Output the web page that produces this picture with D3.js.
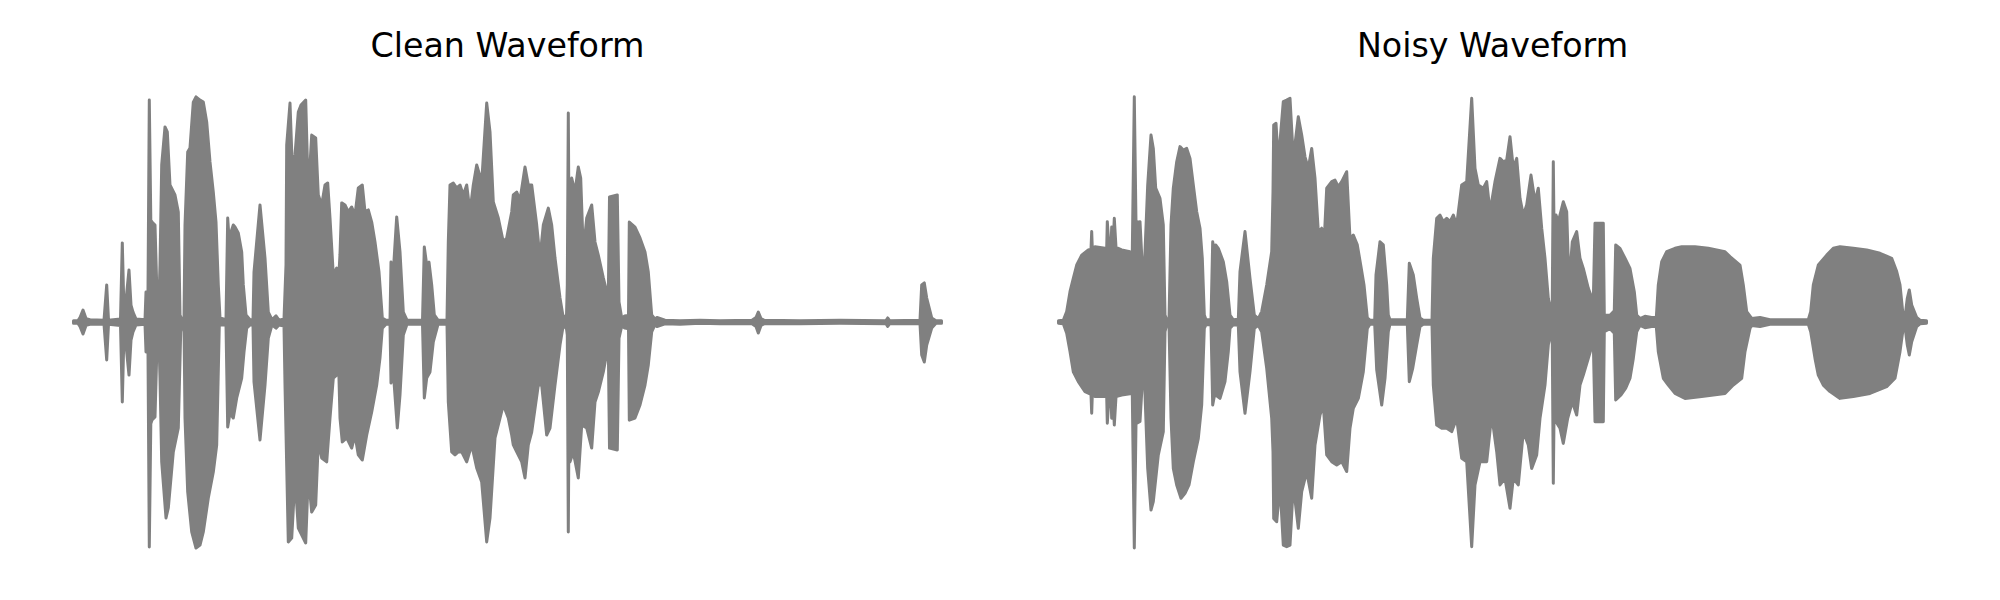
<!DOCTYPE html>
<html>
<head>
<meta charset="utf-8">
<script src="https://cdn.jsdelivr.net/npm/d3@7"></script>
<style>
  html, body { margin: 0; padding: 0; background: #ffffff; }
  svg { display: block; }
</style>
</head>
<body>
<svg id="chart" width="2000" height="600"></svg>
<script>
// ---- Data: amplitude envelopes [time (s), normalized amplitude] ----
const panelTitles = ["Clean Waveform", "Noisy Waveform"];
const duration = 8.68;

const cleanUpper = [
[0,0.006],[0.045,0.006],[0.065,0.02],[0.095,0.053],[0.125,0.015],[0.165,0.01],[0.305,0.008],[0.332,0.164],[0.35,0.008],
[0.47,0.013],[0.488,0.35],[0.505,0.044],[0.525,0.097],[0.555,0.23],[0.575,0.075],[0.595,0.044],[0.625,0.013],[0.715,0.01],
[0.725,0.133],[0.745,0.133],[0.758,0.982],[0.773,0.451],[0.785,0.442],[0.815,0.429],[0.832,0.164],[0.85,0.018],
[0.865,0.252],[0.882,0.695],[0.915,0.863],[0.938,0.841],[0.965,0.606],[1.015,0.562],[1.048,0.487],[1.065,0.031],[1.085,0.01],[1.105,0.01],
[1.115,0.429],[1.142,0.752],[1.165,0.77],[1.198,0.973],[1.225,0.996],[1.265,0.982],[1.298,0.973],[1.332,0.885],[1.365,0.708],[1.398,0.575],[1.425,0.442],[1.448,0.164],[1.465,0.018],[1.525,0.01],
[1.542,0.46],[1.555,0.372],[1.598,0.429],[1.615,0.42],[1.648,0.394],[1.682,0.31],[1.698,0.164],[1.725,0.031],[1.765,0.01],[1.795,0.01],
[1.805,0.221],[1.865,0.518],[1.915,0.283],[1.948,0.044],[1.985,0.01],[2.025,0.027],[2.055,0.008],[2.105,0.013],
[2.125,0.252],[2.132,0.783],[2.165,0.969],[2.188,0.681],[2.215,0.739],[2.248,0.929],[2.275,0.96],[2.322,0.982],[2.348,0.562],[2.382,0.827],[2.422,0.814],[2.448,0.562],[2.482,0.518],[2.515,0.606],[2.542,0.615],[2.565,0.46],[2.598,0.208],[2.632,0.239],[2.648,0.164],
[2.665,0.3],[2.682,0.527],[2.715,0.518],[2.748,0.487],[2.782,0.509],[2.815,0.473],[2.848,0.593],[2.888,0.606],[2.915,0.487],[2.948,0.496],[2.982,0.442],[3.015,0.354],[3.055,0.221],[3.088,0.018],[3.125,0.008],[3.165,0.008],
[3.175,0.265],[3.198,0.221],[3.232,0.465],[3.265,0.31],[3.298,0.044],[3.335,0.008],[3.49,0.008],
[3.508,0.332],[3.532,0.252],[3.555,0.265],[3.582,0.164],[3.608,0.031],[3.645,0.008],[3.735,0.008],
[3.748,0.354],[3.765,0.606],[3.798,0.615],[3.832,0.593],[3.865,0.606],[3.898,0.562],[3.932,0.606],[3.965,0.487],[3.998,0.606],[4.032,0.695],[4.082,0.619],[4.132,0.969],[4.165,0.841],[4.198,0.531],[4.248,0.46],[4.298,0.354],[4.332,0.372],[4.382,0.487],
[4.398,0.562],[4.432,0.575],[4.465,0.54],[4.515,0.686],[4.548,0.606],[4.582,0.606],[4.632,0.429],[4.665,0.283],[4.698,0.429],[4.748,0.504],[4.782,0.429],[4.815,0.283],[4.865,0.106],[4.898,0.018],[4.93,0.03],
[4.938,0.164],[4.948,0.925],[4.957,0.3],[4.965,0.606],[4.982,0.637],[5.015,0.575],[5.048,0.686],[5.072,0.637],[5.098,0.31],[5.132,0.46],[5.182,0.518],[5.215,0.354],[5.248,0.296],[5.298,0.195],[5.348,0.106],
[5.36,0.553],[5.438,0.562],[5.455,0.088],[5.482,0.018],[5.515,0.027],[5.55,0.03],
[5.558,0.442],[5.615,0.42],[5.665,0.372],[5.715,0.31],[5.748,0.221],[5.782,0.031],[5.815,0.012],[5.835,0.02],[5.915,0.008],
[6.065,0.006],[6.265,0.008],[6.465,0.006],[6.785,0.008],[6.825,0.02],[6.848,0.044],[6.875,0.015],[6.905,0.008],[7.265,0.006],[7.665,0.008],
[8.125,0.006],[8.142,0.018],[8.16,0.006],[8.465,0.008],[8.482,0.164],[8.508,0.173],[8.532,0.106],[8.582,0.018],[8.625,0.006],[8.68,0.006]
];

const cleanLower = [
[0,-0.006],[0.045,-0.006],[0.065,-0.02],[0.095,-0.053],[0.125,-0.015],[0.165,-0.01],[0.305,-0.01],[0.332,-0.168],[0.35,-0.01],
[0.47,-0.015],[0.488,-0.354],[0.505,-0.044],[0.525,-0.102],[0.555,-0.235],[0.575,-0.08],[0.595,-0.044],[0.625,-0.013],[0.715,-0.01],
[0.725,-0.133],[0.745,-0.133],[0.758,-0.996],[0.773,-0.45],[0.785,-0.434],[0.815,-0.42],[0.832,-0.15],[0.85,-0.018],
[0.865,-0.248],[0.882,-0.619],[0.925,-0.867],[0.948,-0.823],[0.998,-0.575],[1.048,-0.469],[1.072,-0.044],[1.085,-0.013],[1.105,-0.013],
[1.115,-0.425],[1.142,-0.752],[1.182,-0.929],[1.225,-1.0],[1.265,-0.987],[1.298,-0.929],[1.348,-0.779],[1.398,-0.664],[1.432,-0.544],[1.458,-0.013],[1.525,-0.013],
[1.542,-0.465],[1.565,-0.403],[1.598,-0.425],[1.632,-0.336],[1.682,-0.248],[1.705,-0.133],[1.732,-0.027],[1.765,-0.013],[1.795,-0.013],
[1.805,-0.265],[1.865,-0.522],[1.915,-0.279],[1.948,-0.071],[1.985,-0.013],[2.025,-0.027],[2.055,-0.013],[2.105,-0.018],
[2.115,-0.279],[2.148,-0.973],[2.182,-0.956],[2.215,-0.69],[2.248,-0.912],[2.322,-0.978],[2.348,-0.677],[2.382,-0.841],[2.422,-0.81],[2.448,-0.531],[2.482,-0.602],[2.532,-0.619],[2.565,-0.425],[2.598,-0.248],[2.632,-0.235],[2.648,-0.133],
[2.665,-0.425],[2.688,-0.531],[2.732,-0.513],[2.782,-0.558],[2.815,-0.5],[2.848,-0.588],[2.888,-0.611],[2.932,-0.5],[2.982,-0.398],[3.032,-0.279],[3.065,-0.159],[3.088,-0.027],[3.125,-0.01],[3.165,-0.01],
[3.175,-0.27],[3.198,-0.221],[3.238,-0.469],[3.265,-0.323],[3.298,-0.058],[3.335,-0.01],[3.49,-0.01],
[3.508,-0.336],[3.532,-0.248],[3.565,-0.221],[3.598,-0.088],[3.645,-0.01],[3.735,-0.01],
[3.748,-0.354],[3.782,-0.575],[3.815,-0.588],[3.848,-0.575],[3.882,-0.575],[3.932,-0.619],[3.982,-0.544],[4.032,-0.646],[4.082,-0.708],[4.132,-0.973],[4.165,-0.867],[4.215,-0.513],[4.265,-0.425],[4.298,-0.367],[4.348,-0.425],[4.382,-0.5],
[4.398,-0.544],[4.432,-0.575],[4.482,-0.619],[4.515,-0.69],[4.548,-0.544],[4.582,-0.487],[4.648,-0.279],[4.682,-0.279],[4.732,-0.5],[4.765,-0.469],[4.815,-0.279],[4.865,-0.102],[4.898,-0.013],[4.93,-0.03],
[4.938,-0.058],[4.948,-0.929],[4.957,-0.3],[4.965,-0.619],[4.998,-0.575],[5.048,-0.69],[5.082,-0.456],[5.132,-0.469],[5.182,-0.558],[5.215,-0.354],[5.248,-0.31],[5.298,-0.221],[5.348,-0.102],
[5.36,-0.558],[5.438,-0.566],[5.455,-0.071],[5.482,-0.018],[5.515,-0.027],[5.55,-0.03],
[5.558,-0.434],[5.615,-0.425],[5.665,-0.367],[5.715,-0.279],[5.748,-0.19],[5.782,-0.044],[5.815,-0.012],[5.835,-0.02],[5.915,-0.008],
[6.065,-0.01],[6.265,-0.006],[6.465,-0.008],[6.785,-0.008],[6.825,-0.02],[6.848,-0.049],[6.875,-0.015],[6.905,-0.008],[7.265,-0.008],[7.665,-0.006],
[8.125,-0.008],[8.142,-0.02],[8.16,-0.008],[8.465,-0.008],[8.482,-0.146],[8.508,-0.177],[8.532,-0.102],[8.582,-0.027],[8.625,-0.006],[8.68,-0.006]
];

const noisyUpper = [
[0,0.006],[0.048,0.008],[0.082,0.046],[0.115,0.134],[0.148,0.193],[0.182,0.252],[0.232,0.296],[0.298,0.319],[0.325,0.322],[0.332,0.4],[0.338,0.325],
[0.365,0.333],[0.465,0.326],[0.482,0.326],[0.488,0.444],[0.505,0.33],[0.525,0.33],[0.532,0.42],[0.545,0.33],[0.558,0.459],[0.575,0.33],[0.632,0.319],[0.715,0.311],[0.738,0.31],
[0.758,0.997],[0.775,0.44],[0.815,0.444],[0.832,0.296],[0.852,0.15],
[0.865,0.311],[0.892,0.606],[0.925,0.827],[0.948,0.768],[0.972,0.592],[1.015,0.547],[1.048,0.429],[1.065,0.031],[1.082,0.01],[1.105,0.01],
[1.125,0.429],[1.148,0.592],[1.182,0.709],[1.215,0.776],[1.248,0.761],[1.282,0.768],[1.315,0.724],[1.348,0.606],[1.382,0.488],[1.415,0.415],[1.438,0.282],[1.458,0.031],[1.475,0.01],[1.525,0.01],
[1.542,0.355],[1.558,0.311],[1.572,0.341],[1.598,0.326],[1.648,0.267],[1.682,0.178],[1.715,0.031],[1.748,0.01],[1.798,0.012],
[1.815,0.223],[1.865,0.4],[1.915,0.193],[1.958,0.031],[1.998,0.015],
[2.032,0.046],[2.082,0.164],[2.132,0.311],[2.145,0.577],[2.152,0.872],[2.175,0.879],[2.198,0.709],[2.248,0.975],[2.282,0.982],[2.315,0.99],[2.348,0.724],[2.398,0.908],[2.432,0.827],[2.465,0.731],[2.498,0.68],[2.532,0.768],[2.565,0.636],[2.598,0.4],[2.632,0.415],[2.655,0.341],
[2.682,0.592],[2.732,0.621],[2.765,0.628],[2.798,0.599],[2.832,0.621],[2.882,0.665],[2.915,0.37],[2.948,0.385],[2.988,0.341],[3.022,0.252],[3.055,0.164],[3.088,0.018],[3.115,0.008],[3.162,0.008],
[3.175,0.208],[3.215,0.355],[3.248,0.341],[3.282,0.164],[3.298,0.031],[3.315,0.01],[3.488,0.01],
[3.508,0.26],[3.548,0.208],[3.582,0.105],[3.615,0.018],[3.648,0.008],[3.735,0.008],
[3.748,0.282],[3.782,0.459],[3.815,0.473],[3.848,0.444],[3.882,0.459],[3.915,0.444],[3.948,0.473],[3.982,0.429],[4.032,0.606],[4.082,0.621],[4.132,0.99],[4.165,0.68],[4.198,0.606],[4.248,0.592],[4.282,0.621],[4.315,0.488],[4.365,0.621],
[4.415,0.724],[4.448,0.709],[4.482,0.717],[4.515,0.82],[4.548,0.68],[4.582,0.724],[4.615,0.547],[4.648,0.473],[4.682,0.518],[4.725,0.65],[4.765,0.532],[4.798,0.592],[4.832,0.415],[4.865,0.282],[4.898,0.105],[4.925,0.031],
[4.938,0.1],[4.948,0.709],[4.958,0.3],[4.975,0.473],[4.998,0.444],[5.048,0.532],[5.082,0.488],[5.105,0.164],[5.138,0.355],[5.182,0.4],[5.215,0.282],[5.248,0.237],[5.298,0.149],[5.348,0.09],
[5.365,0.437],[5.448,0.437],[5.458,0.031],[5.515,0.03],[5.558,0.05],
[5.572,0.341],[5.615,0.326],[5.665,0.282],[5.715,0.237],[5.758,0.134],[5.782,0.031],[5.815,0.015],[5.865,0.025],[5.932,0.02],[5.978,0.02],
[5.998,0.164],[6.032,0.267],[6.082,0.311],[6.165,0.326],[6.232,0.333],[6.365,0.333],[6.498,0.326],[6.665,0.311],[6.715,0.289],[6.815,0.252],[6.848,0.164],[6.882,0.046],[6.932,0.016],
[7.015,0.02],[7.115,0.01],[7.282,0.01],[7.498,0.01],
[7.522,0.046],[7.548,0.164],[7.598,0.252],[7.682,0.296],[7.748,0.326],[7.815,0.333],[7.948,0.326],[8.082,0.319],[8.215,0.304],[8.332,0.282],[8.382,0.223],[8.415,0.164],[8.442,0.046],[8.465,0.02],
[8.488,0.105],[8.508,0.142],[8.532,0.075],[8.582,0.02],[8.615,0.008],[8.68,0.006]
];

const noisyLower = [
[0,-0.006],[0.048,-0.008],[0.082,-0.05],[0.115,-0.131],[0.148,-0.22],[0.198,-0.264],[0.265,-0.308],[0.325,-0.32],[0.332,-0.404],[0.338,-0.322],
[0.365,-0.33],[0.482,-0.33],[0.488,-0.448],[0.505,-0.33],[0.525,-0.33],[0.532,-0.426],[0.545,-0.33],[0.558,-0.456],[0.575,-0.33],[0.632,-0.323],[0.715,-0.318],[0.738,-0.318],
[0.758,-1.0],[0.775,-0.45],[0.815,-0.44],[0.832,-0.31],[0.852,-0.15],
[0.865,-0.32],[0.892,-0.648],[0.925,-0.832],[0.948,-0.795],[0.998,-0.588],[1.048,-0.485],[1.065,-0.043],[1.082,-0.012],[1.105,-0.012],
[1.125,-0.426],[1.148,-0.648],[1.182,-0.721],[1.225,-0.78],[1.265,-0.758],[1.305,-0.721],[1.348,-0.618],[1.398,-0.515],[1.432,-0.367],[1.458,-0.028],[1.475,-0.012],[1.525,-0.012],
[1.542,-0.367],[1.558,-0.33],[1.572,-0.323],[1.615,-0.338],[1.665,-0.264],[1.698,-0.131],[1.715,-0.028],[1.748,-0.012],[1.798,-0.014],
[1.815,-0.22],[1.865,-0.404],[1.915,-0.22],[1.958,-0.028],[1.998,-0.015],
[2.032,-0.043],[2.082,-0.205],[2.132,-0.426],[2.145,-0.574],[2.152,-0.869],[2.182,-0.884],[2.215,-0.721],[2.248,-0.987],[2.282,-0.994],[2.315,-0.987],[2.348,-0.721],[2.398,-0.913],[2.432,-0.751],[2.482,-0.662],[2.532,-0.78],[2.565,-0.544],[2.615,-0.412],[2.648,-0.367],
[2.682,-0.588],[2.732,-0.618],[2.782,-0.633],[2.832,-0.618],[2.882,-0.662],[2.915,-0.47],[2.948,-0.382],[2.998,-0.338],[3.048,-0.22],[3.088,-0.028],[3.115,-0.01],[3.162,-0.01],
[3.182,-0.212],[3.232,-0.367],[3.265,-0.249],[3.298,-0.043],[3.315,-0.01],[3.488,-0.01],
[3.508,-0.264],[3.542,-0.205],[3.582,-0.102],[3.615,-0.02],[3.648,-0.01],[3.735,-0.01],
[3.748,-0.279],[3.782,-0.456],[3.832,-0.47],[3.882,-0.47],[3.932,-0.485],[3.982,-0.426],[4.032,-0.603],[4.082,-0.618],[4.132,-0.994],[4.165,-0.721],[4.215,-0.618],[4.282,-0.618],[4.332,-0.412],[4.382,-0.574],
[4.415,-0.721],[4.465,-0.692],[4.515,-0.824],[4.548,-0.692],[4.598,-0.721],[4.648,-0.485],[4.698,-0.544],[4.732,-0.648],[4.782,-0.588],[4.815,-0.426],[4.865,-0.279],[4.898,-0.102],[4.925,-0.03],
[4.938,-0.1],[4.948,-0.714],[4.958,-0.3],[4.975,-0.441],[5.015,-0.47],[5.048,-0.537],[5.092,-0.426],[5.138,-0.353],[5.182,-0.412],[5.215,-0.279],[5.248,-0.235],[5.298,-0.161],[5.348,-0.087],
[5.365,-0.441],[5.448,-0.441],[5.458,-0.043],[5.515,-0.03],[5.558,-0.05],
[5.572,-0.345],[5.625,-0.323],[5.672,-0.293],[5.715,-0.249],[5.748,-0.161],[5.782,-0.043],[5.815,-0.015],[5.865,-0.025],[5.932,-0.02],[5.978,-0.02],
[5.998,-0.131],[6.048,-0.249],[6.098,-0.279],[6.165,-0.316],[6.265,-0.338],[6.432,-0.33],[6.665,-0.316],[6.748,-0.279],[6.832,-0.249],[6.865,-0.131],[6.915,-0.028],[6.932,-0.016],
[7.015,-0.02],[7.115,-0.01],[7.282,-0.01],[7.498,-0.01],
[7.522,-0.043],[7.565,-0.161],[7.598,-0.235],[7.648,-0.279],[7.715,-0.308],[7.815,-0.338],[7.948,-0.33],[8.115,-0.316],[8.282,-0.286],[8.365,-0.249],[8.415,-0.131],[8.442,-0.043],[8.465,-0.02],
[8.488,-0.102],[8.508,-0.146],[8.532,-0.087],[8.582,-0.02],[8.615,-0.008],[8.68,-0.006]
];

// ---- Drawing ----
const svg = d3.select("#chart");
const color = "#808080";

const panels = [
  { title: panelTitles[0], upper: cleanUpper, lower: cleanLower, range: [73.5, 941.5] },
  { title: panelTitles[1], upper: noisyUpper, lower: noisyLower, range: [1058.5, 1926.5] }
];

const y = d3.scaleLinear().domain([-1, 1]).range([548, 96]);

panels.forEach(p => {
  const x = d3.scaleLinear().domain([0, duration]).range(p.range);
  const g = svg.append("g");
  const outline = p.upper.concat(p.lower.slice().reverse());
  const line = d3.line().x(d => x(d[0])).y(d => y(d[1]));
  g.append("path")
    .attr("d", line(outline) + "Z")
    .attr("fill", color)
    .attr("stroke", color)
    .attr("stroke-width", 3)
    .attr("stroke-linejoin", "round")
    .attr("stroke-linecap", "round");

  svg.append("text")
    .attr("x", (p.range[0] + p.range[1]) / 2)
    .attr("y", 57)
    .attr("text-anchor", "middle")
    .attr("font-family", "DejaVu Sans")
    .attr("font-size", "33.3px")
    .attr("fill", "#000")
    .text(p.title);
});
</script>
</body>
</html>
